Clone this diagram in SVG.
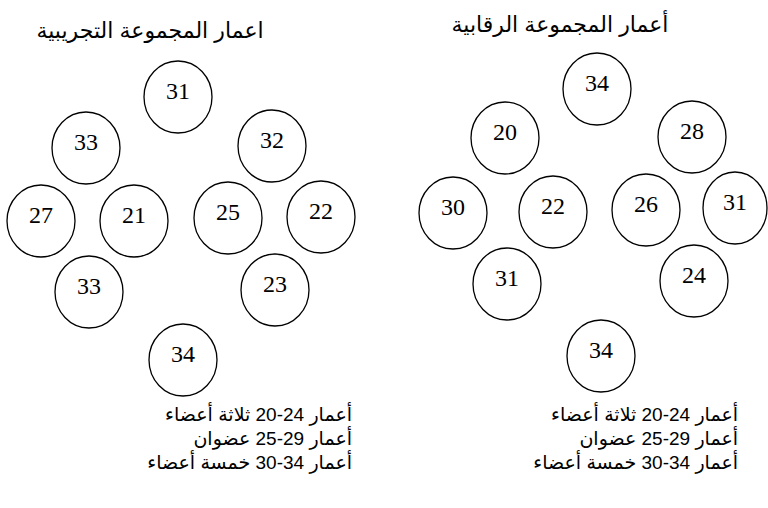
<svg xmlns="http://www.w3.org/2000/svg" width="768" height="508" viewBox="0 0 768 508">
<style>
.c{fill:#fff;stroke:#000;stroke-width:1.3}
.n{font-family:"Liberation Serif","Times New Roman",serif;font-size:24px;text-anchor:middle;fill:#000}
.t{font-family:"Liberation Sans","DejaVu Sans",Arial,sans-serif;font-size:22px;fill:#000;text-anchor:middle}
.l{font-family:"Liberation Sans","DejaVu Sans",Arial,sans-serif;font-size:19px;fill:#000;text-anchor:end}
</style>
<rect width="768" height="508" fill="#fff"/>
<text class="t" x="150" y="38">اعمار المجموعة التجريبية</text>
<text class="t" x="560" y="32">أعمار المجموعة الرقابية</text>
<g id="L31"><ellipse class="c" cx="178" cy="97" rx="34" ry="36"/><text class="n" x="178" y="99">31</text></g>
<g id="L33a"><ellipse class="c" cx="86" cy="148" rx="34" ry="36"/><text class="n" x="86" y="150">33</text></g>
<g id="L32"><ellipse class="c" cx="272" cy="146" rx="34" ry="36"/><text class="n" x="272" y="148">32</text></g>
<g id="L27"><ellipse class="c" cx="41" cy="221" rx="34" ry="36"/><text class="n" x="41" y="223">27</text></g>
<g id="L21"><ellipse class="c" cx="134" cy="221" rx="34" ry="36"/><text class="n" x="134" y="223">21</text></g>
<g id="L25"><ellipse class="c" cx="228" cy="218" rx="34" ry="36"/><text class="n" x="228" y="220">25</text></g>
<g id="L22"><ellipse class="c" cx="321" cy="217" rx="34" ry="36"/><text class="n" x="321" y="219">22</text></g>
<g id="L33b"><ellipse class="c" cx="89" cy="292" rx="34" ry="36"/><text class="n" x="89" y="294">33</text></g>
<g id="L23"><ellipse class="c" cx="275" cy="290" rx="34" ry="36"/><text class="n" x="275" y="292">23</text></g>
<g id="L34"><ellipse class="c" cx="183" cy="360" rx="34" ry="36"/><text class="n" x="183" y="362">34</text></g>
<g id="R34a"><ellipse class="c" cx="597" cy="89" rx="34" ry="36"/><text class="n" x="597" y="91">34</text></g>
<g id="R20"><ellipse class="c" cx="505" cy="138" rx="34" ry="36"/><text class="n" x="505" y="140">20</text></g>
<g id="R28"><ellipse class="c" cx="692" cy="137" rx="34" ry="36"/><text class="n" x="692" y="139">28</text></g>
<g id="R30"><ellipse class="c" cx="453" cy="213" rx="34" ry="36"/><text class="n" x="453" y="215">30</text></g>
<g id="R22"><ellipse class="c" cx="553" cy="212" rx="34" ry="36"/><text class="n" x="553" y="214">22</text></g>
<g id="R26"><ellipse class="c" cx="646" cy="210" rx="34" ry="36"/><text class="n" x="646" y="212">26</text></g>
<g id="R31a"><ellipse class="c" cx="735" cy="208" rx="32" ry="36"/><text class="n" x="735" y="210">31</text></g>
<g id="R31b"><ellipse class="c" cx="507" cy="284" rx="34" ry="36"/><text class="n" x="507" y="286">31</text></g>
<g id="R24"><ellipse class="c" cx="694" cy="281" rx="34" ry="36"/><text class="n" x="694" y="283">24</text></g>
<g id="R34b"><ellipse class="c" cx="601" cy="356" rx="34" ry="36"/><text class="n" x="601" y="358">34</text></g>
<g id="legendL">
<text class="l" x="352" y="421">أعمار 24-20 ثلاثة أعضاء</text>
<text class="l" x="352" y="445">أعمار 29-25 عضوان</text>
<text class="l" x="352" y="469">أعمار 34-30 خمسة أعضاء</text>
</g>
<g id="legendR">
<text class="l" x="738" y="421">أعمار 24-20 ثلاثة أعضاء</text>
<text class="l" x="738" y="445">أعمار 29-25 عضوان</text>
<text class="l" x="738" y="469">أعمار 34-30 خمسة أعضاء</text>
</g>
<g id="connectors"/>
</svg>
